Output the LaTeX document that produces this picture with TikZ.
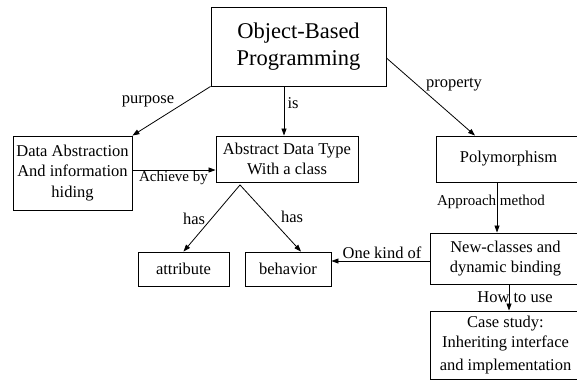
\documentclass[tikz,border=0pt]{standalone}
\usepackage{fontspec}
\setmainfont{Liberation Serif}
\usetikzlibrary{arrows.meta,calc}
\begin{document}
\begin{tikzpicture}[x=1pt,y=-1pt,
  box/.style={draw,line width=0.9pt,inner sep=0pt,align=center,font=\fontsize{16.5}{20.5}\selectfont},
  lab/.style={inner sep=0pt,font=\fontsize{16.5}{20.5}\selectfont},
  slab/.style={inner sep=0pt,font=\fontsize{15}{18}\selectfont},
  arr/.style={line width=0.8pt,-{Triangle[length=7pt,width=5pt]}}]
\useasboundingbox (0,0) rectangle (577,380);
\clip (0,0) rectangle (577,380);
% boxes
\node[box,minimum width=175pt,minimum height=79pt,font=\fontsize{22.5}{27}\selectfont] (top) at (298.5,46.5) {Object-Based\\Programming};
\node[box,minimum width=119pt,minimum height=74pt] (da) at (72.5,173) {Data Abstraction\\And information\\hiding};
\node[box,minimum width=142pt,minimum height=46pt] (adt) at (287,159) {Abstract Data Type\\With a class};
\node[box,minimum width=145pt,minimum height=46pt] (poly) at (508.5,159) {Polymorphism};
\node[box,minimum width=151pt,minimum height=51pt] (nc) at (505.5,258.5) {New-classes and\\dynamic binding};
\node[box,minimum width=151pt,minimum height=68pt] (cs) at (505.5,345) {Case study:\\Inheriting interface\\[2pt]and implementation};
\node[box,minimum width=91pt,minimum height=34pt] (attr) at (183.5,269) {attribute};
\node[box,minimum width=86pt,minimum height=34pt] (beh) at (288,269) {behavior};
% connector points
\coordinate (isS) at ([xshift=-14.5pt]top.south);
\coordinate (propS) at ([yshift=-11.5pt]top.east);
\coordinate (propE) at ([xshift=-33.5pt]poly.north);
\coordinate (abS) at ([yshift=3pt]da.east);
\coordinate (hasroot) at ([xshift=-47pt,yshift=-2.5pt]adt.south);
\coordinate (behN) at ([xshift=13pt]beh.north);
\coordinate (apS) at ([xshift=-11.5pt]poly.south);
\coordinate (okS) at ([yshift=-2.5pt]nc.west);
\coordinate (htS) at ([xshift=3.5pt]nc.south);
% connectors
\draw[arr] (top.south west) -- (da.north east);
\draw[arr] (isS) -- (isS |- adt.north);
\draw[arr] (propS) -- (propE);
\draw[arr] (abS) -- (abS -| adt.west);
\draw[arr] (hasroot) -- (attr.north);
\draw[arr] (hasroot) -- (behN);
\draw[arr] (apS) -- (apS |- nc.north);
\draw[arr] (okS) -- (okS -| beh.east);
\draw[arr] (htS) -- (htS |- cs.north);
% labels
\node[lab] (lpurpose) at (148,101) {purpose};
\node[lab] (lis) at (293,103) {is};
\node[lab] (lprop) at (454,85) {property};
\node[slab] (lach) at (173.5,178) {Achieve by};
\node[lab] (lhas1) at (194,219) {has};
\node[lab] (lhas2) at (292,217) {has};
\node[slab] (lapp) at (491,202) {Approach method};
\node[lab] (lone) at (382,253) {One kind of};
\node[lab] (lhow) at (515,297) {How to use};
\end{tikzpicture}
\end{document}
